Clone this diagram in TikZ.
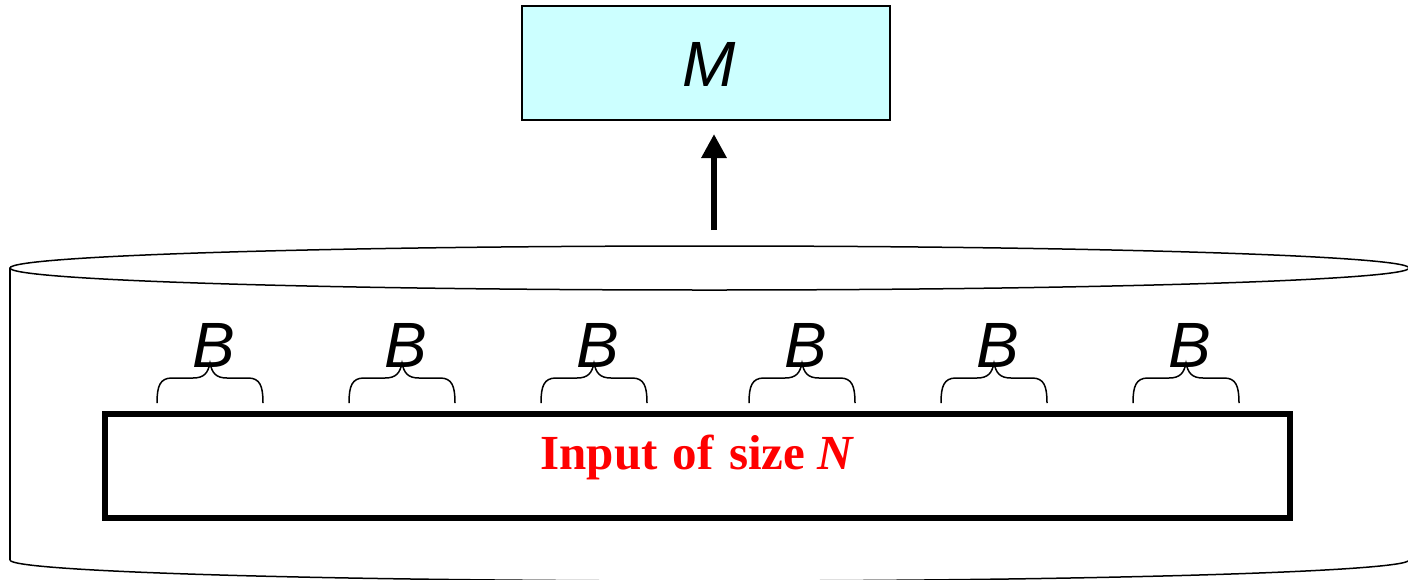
\documentclass[tikz,border=0pt]{standalone}
\usepackage{fontspec}
\setmainfont{Liberation Serif}
\newfontfamily\arialfont{Liberation Sans}
\usetikzlibrary{arrows.meta}
\definecolor{memcyan}{HTML}{CCFFFF}
\definecolor{inred}{HTML}{FF0000}
\tikzset{
  thinline/.style={line width=1.5pt, black},
  membox/.style={draw=black, line width=2pt, fill=memcyan, minimum width=368pt, minimum height=114pt, inner sep=0pt},
  inputbox/.style={draw=black, line width=6pt, minimum width=1185pt, minimum height=104pt, inner sep=0pt},
  bigletter/.style={font=\arialfont\itshape\fontsize{64}{64}\selectfont, inner sep=0pt},
  bracepath/.style={line width=1.5pt, black},
}
\newcommand{\blockbrace}[2]{%
  \draw[bracepath] (#1-53,403) .. controls (#1-53,386) and (#1-50,378) .. (#1-38,378)
    -- (#1-17,378) .. controls (#1-6,378) and (#1-2,373) .. (#2)
    .. controls (#1+2,373) and (#1+6,378) .. (#1+17,378)
    -- (#1+38,378) .. controls (#1+50,378) and (#1+53,386) .. (#1+53,403);}
\begin{document}
\begin{tikzpicture}[x=1pt,y=-1pt]
\useasboundingbox[clip] (0,0) rectangle (1408,579);
\fill[white] (0,0) rectangle (1408,579);
% disk (cylinder)
\draw[thinline] (709.5,268) ellipse [x radius=699.5, y radius=22];
\draw[thinline] (10,268) -- (10,560);
\draw[thinline] (1409,268) -- (1409,560);
\draw[thinline] (10,560) arc [start angle=180, end angle=0, x radius=699.5, y radius=21];
% memory
\node[membox] (mem) at (706,63) {};
\node[bigletter] (mlabel) at (709,64) {M};
% arrow
\coordinate (arrowtail) at (714,230);
\coordinate (arrowhead) at (714,134);
\draw[line width=6pt, -{Triangle[length=24pt,width=24pt]}] (arrowtail) -- (arrowhead);
% input
\node[inputbox] (input) at (697.5,466) {};
\node[text=inred, font=\fontsize{49}{49}\selectfont\bfseries, anchor=base, inner sep=0pt] (inlabel) at (697.5,469) {Input\hspace{3pt} of\hspace{3pt} size \textit{N}};
% blocks
\foreach \c/\i in {210/1,402/2,594/3,802/4,994/5,1186/6}{
  \coordinate (tip\i) at (\c,363);
  \blockbrace{\c}{tip\i}
  \node[bigletter, anchor=base] (b\i) at (\c+4,367) {B};
}
\end{tikzpicture}
\end{document}
